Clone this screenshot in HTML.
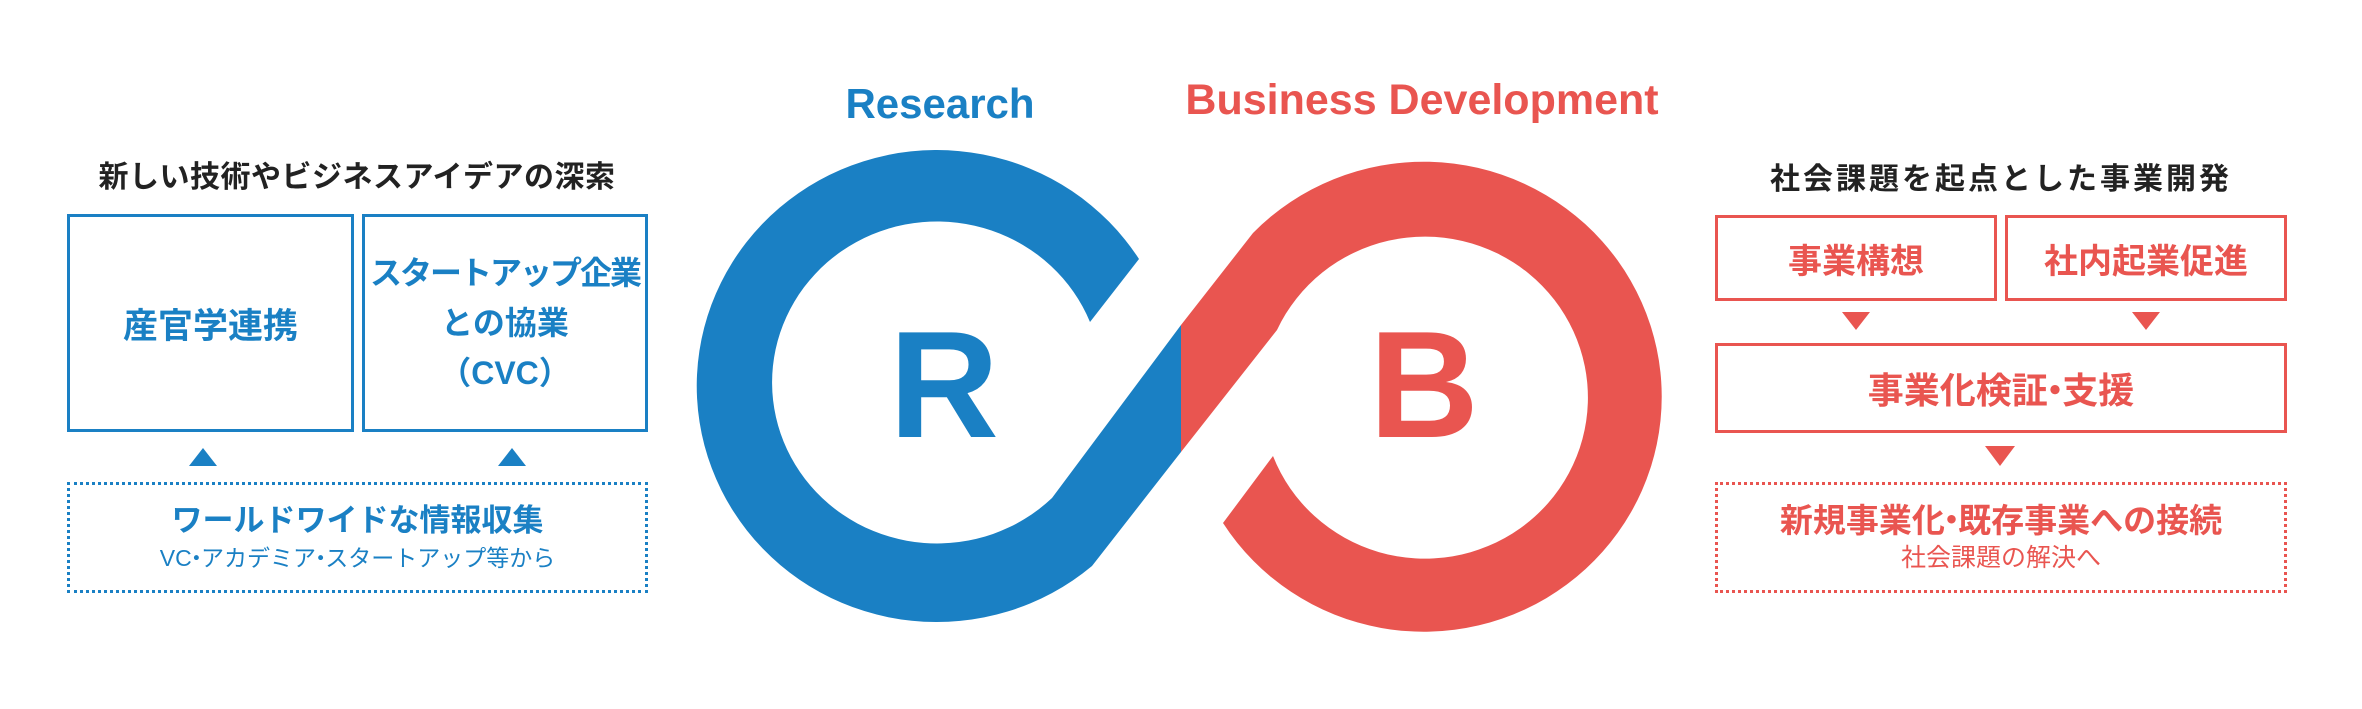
<!DOCTYPE html>
<html><head><meta charset="utf-8"><style>
body{margin:0;width:2362px;height:709px;background:#fff;position:relative;overflow:hidden;font-family:"Liberation Sans","Noto Sans CJK JP",sans-serif;}
.a{position:absolute;box-sizing:border-box;}
.c{display:flex;flex-direction:column;align-items:center;justify-content:center;text-align:center;font-weight:bold;white-space:nowrap;}
.bl{color:#1a80c4;border:3.5px solid #1a80c4;}
.rd{color:#e95550;border:3.5px solid #e95550;}
.t{position:absolute;font-weight:bold;font-size:30px;color:#222;text-align:center;white-space:nowrap;}
.d{margin:0 -0.3em;}
</style></head><body>
<div class="t" style="left:67px;width:580px;top:152px;letter-spacing:0.5px;">新しい技術やビジネスアイデアの深索</div>
<div class="a c bl" style="left:67px;top:214px;width:287px;height:218px;font-size:35px;">産官学連携</div>
<div class="a c bl" style="left:362px;top:214px;width:286px;height:218px;font-size:32px;line-height:50px;"><div style="letter-spacing:-2px">スタートアップ企業</div><div>との協業</div><div>（CVC）</div></div>
<svg class="a" style="left:0;top:0" width="2362" height="709">
<polygon points="189,466 217,466 203,448" fill="#1a80c4"/>
<polygon points="498,466 526,466 512,448" fill="#1a80c4"/>
<polygon points="1842,312 1870,312 1856,330" fill="#e95550"/>
<polygon points="2132,312 2160,312 2146,330" fill="#e95550"/>
<polygon points="1985,446 2015,446 2000,466" fill="#e95550"/>
<path d="M1139,259 A240 236 0 1 0 1092,566 L1181,452 L1181,325 L1052,498 A165 161 0 1 1 1090,322 Z" fill="#1a80c4"/>
<path d="M1181,325 L1253,233 A238 235 0 1 1 1223,523 L1273,456 A163 161 0 1 0 1277,330 L1181,452 Z" fill="#e95550"/>
<text x="944" y="437" font-family="Liberation Sans" font-weight="bold" font-size="152" fill="#1a80c4" text-anchor="middle">R</text>
<text x="1424" y="437" font-family="Liberation Sans" font-weight="bold" font-size="152" fill="#e95550" text-anchor="middle">B</text>
<text x="940" y="118" font-family="Liberation Sans" font-weight="bold" font-size="42" fill="#1a80c4" text-anchor="middle">Research</text>
<text x="1422" y="114" font-family="Liberation Sans" font-weight="bold" font-size="43" fill="#e95550" text-anchor="middle">Business Development</text>
</svg>
<div class="a c" style="left:67px;top:482px;width:581px;height:111px;border:3px dotted #1a80c4;color:#1a80c4;"><div style="font-size:31px;line-height:40px;">ワールドワイドな情報収集</div><div style="font-size:23px;font-weight:normal;line-height:34px;">VC<span class="d">・</span>アカデミア<span class="d">・</span>スタートアップ等から</div></div>

<div class="t" style="left:1715px;width:572px;top:154px;letter-spacing:3px;">社会課題を起点とした事業開発</div>
<div class="a c rd" style="left:1715px;top:215px;width:282px;height:86px;font-size:34px;">事業構想</div>
<div class="a c rd" style="left:2005px;top:215px;width:282px;height:86px;font-size:34px;">社内起業促進</div>
<div class="a c rd" style="left:1715px;top:343px;width:572px;height:90px;font-size:36px;"><div>事業化検証<span class="d">・</span>支援</div></div>
<div class="a c" style="left:1715px;top:482px;width:572px;height:111px;border:3px dotted #e95550;color:#e95550;"><div style="font-size:33px;line-height:40px;">新規事業化<span class="d">・</span>既存事業への接続</div><div style="font-size:25px;font-weight:normal;line-height:34px;">社会課題の解決へ</div></div>
</body></html>
